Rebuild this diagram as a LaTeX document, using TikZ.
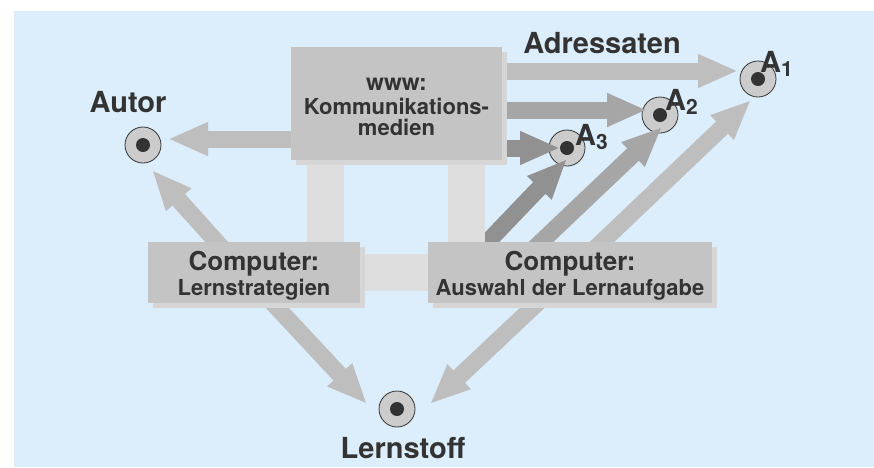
\documentclass[tikz,border=0pt]{standalone}
\usepackage{fontspec}
\setmainfont{TeX Gyre Heros}
\usepackage{tikz}
\usetikzlibrary{arrows.meta,positioning,shadows,calc}

\definecolor{skyc}{RGB}{220,238,252}
\definecolor{boxc}{RGB}{196,196,196}
\definecolor{shadec}{RGB}{214,214,214}
\definecolor{barc}{RGB}{222,222,222}
\definecolor{lightc}{RGB}{190,190,190}
\definecolor{midc}{RGB}{166,166,166}
\definecolor{darkc}{RGB}{145,145,145}
\definecolor{inkc}{RGB}{51,51,51}
\definecolor{spotc}{RGB}{204,204,204}

\pgfdeclarelayer{back}
\pgfdeclarelayer{bars}
\pgfdeclarelayer{front}
\pgfsetlayers{back,main,bars,front}

\newcommand{\bigtxt}{\fontsize{29}{32}\selectfont\bfseries}

\begin{document}
\begin{tikzpicture}[x=1pt, y=-1pt,
    box/.style={rectangle, fill=boxc, inner sep=0pt, align=center, text=inkc,
      general shadow={fill=shadec, shadow xshift=5pt, shadow yshift=-5pt}},
    spot/.style={circle, draw=inkc, line width=0.8pt, fill=spotc, minimum size=36pt,
      inner sep=0pt, path picture={\fill[inkc] (path picture bounding box.center) circle (7pt);}},
    fat/.style={line width=17pt, -{Triangle[width=31pt,length=40pt]}},
    bar/.style={barc, line width=37pt},
    lbl/.style={text=inkc, font=\bigtxt, inner sep=0pt}]
    \def\hb{61pt}
    % Background
    \begin{pgfonlayer}{back}
      \fill[skyc] (14,11) rectangle (874,467);
    \end{pgfonlayer}
    \useasboundingbox (0,0) rectangle (874,467);

    % Boxes
    \begin{pgfonlayer}{front}
      \node[box, minimum width=211pt, minimum height=113pt, font=\fontsize{22}{21}\selectfont\bfseries] (www) at (396.5,103.5)
        {\rule{0pt}{20pt}{\fontsize{23}{23}\selectfont www:}\\[3pt]Kommunikations-\\medien};
      \node[box, minimum width=212pt, minimum height=\hb, font=\fontsize{22}{25}\selectfont\bfseries] (lern) at (254,272.5)
        {\rule{0pt}{26pt}{\fontsize{26}{25}\selectfont Computer:}\\Lernstrategien};
      \node[box, minimum width=284pt, minimum height=\hb, font=\fontsize{22}{25}\selectfont\bfseries] (wahl) at (570,272.5)
        {\rule{0pt}{26pt}{\fontsize{26}{25}\selectfont Computer:}\\Auswahl der Lernaufgabe};
    \end{pgfonlayer}

    % Spots
    \node[spot] (autor) at (143,145) {};
    \node[spot] (stoff) at (397,409) {};
    \node[spot] (a1) at (758,79) {};
    \node[spot] (a2) at (660,115) {};
    \node[spot] (a3) at (567,148) {};

    % Labels
    \node[lbl] (adr) at (602,43) {Adressaten};
    \node[lbl, above=14pt of autor, xshift=-15pt] (autorlbl) {Autor};
    \node[lbl, below=10pt of stoff, xshift=6pt] (stofflbl) {Lernstoff};
    \foreach \n/\dx/\dy in {1/2/7, 2/5/5, 3/8/3}
      \node[lbl, anchor=base west] (a\n lbl) at ([xshift=\dx pt, yshift=\dy pt]a\n.center)
        {A\raisebox{-4pt}{\fontsize{21}{21}\selectfont\n}};

    % Arrows out of the www box
    \coordinate (hA) at (168,139);
    \coordinate (h1) at (738,71);
    \coordinate (h2) at (647,110);
    \coordinate (h3) at (560,148);
    \draw[fat, lightc] (www.center |- hA) -- (hA);
    \draw[fat, lightc] (www.center |- h1) -- (h1);
    \draw[fat, midc] (www.center |- h2) -- (h2);
    \draw[fat, darkc] (www.center |- h3) -- (h3);

    % Arrows out of the computer boxes
    \coordinate (d1) at (751,100);
    \coordinate (d2) at (662,127);
    \coordinate (d3) at (567,159);
    \coordinate (dA) at (152,170);
    \coordinate (sL) at (367,404);
    \coordinate (sR) at (430,404);
    \draw[fat, lightc] ($(wahl.north west)+(147,26)$) -- (d1);
    \draw[fat, midc] ($(wahl.north west)+(86,26)$) -- (d2);
    \draw[fat, darkc] ($(wahl.north west)+(35,26)$) -- (d3);
    \draw[fat, lightc] ($(lern.north west)+(92,26)$) -- (dA);
    \draw[fat, lightc] ($(lern.north west)+(108,43)$) -- (sL);
    \draw[fat, lightc] ($(wahl.north west)+(129,43)$) -- (sR);

    % Bars between the boxes
    \coordinate (b1) at ($(www.south west)!0.163!(www.south east)$);
    \coordinate (b2) at ($(www.south west)!0.83!(www.south east)$);
    \begin{pgfonlayer}{bars}
      \draw[bar] (b1) -- (b1 |- lern.north);
      \draw[bar] (b2) -- (b2 |- wahl.north);
      \draw[bar] (lern.center) -- (wahl.center);
    \end{pgfonlayer}
\end{tikzpicture}
\end{document}
